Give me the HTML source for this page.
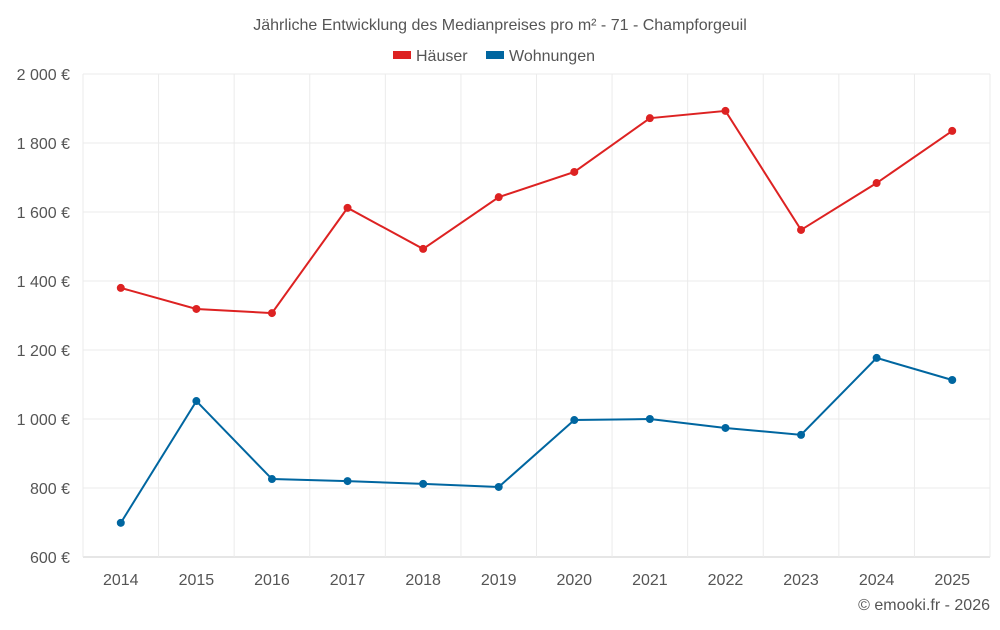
<!DOCTYPE html>
<html><head><meta charset="utf-8"><style>
body{margin:0;background:#fff;font-family:"Liberation Sans",sans-serif;}
svg text{font-family:"Liberation Sans",sans-serif;fill:#555;}
</style></head><body>
<svg id="chart" width="1000" height="625">
<text x="500" y="30" text-anchor="middle" font-size="16">Jährliche Entwicklung des Medianpreises pro m² - 71 - Champforgeuil</text>
<g>
<g><rect x="393" y="51" width="18" height="8" fill="#dd2222"/><text x="416" y="61" font-size="16">Häuser</text></g>
<g><rect x="486" y="51" width="18" height="8" fill="#0066a0"/><text x="509" y="61" font-size="16">Wohnungen</text></g>
</g>
<g id="grid"></g>
<g id="axes"></g>
<g id="series"></g>
<text x="990" y="610" text-anchor="end" font-size="16">© emooki.fr - 2026</text>
</svg>
<script>
const categories=["2014","2015","2016","2017","2018","2019","2020","2021","2022","2023","2024","2025"];
const haeuser=[1380,1319,1307,1612,1493,1643,1716,1872,1893,1548,1684,1835];
const wohnungen=[699,1052,826,820,812,803,997,1000,974,954,1177,1113];
const yTicks=[600,800,1000,1200,1400,1600,1800,2000];
const yTickLabels=["600 €","800 €","1 000 €","1 200 €","1 400 €","1 600 €","1 800 €","2 000 €"];
const L=83,R=990,T=74,B=557,ymin=600,ymax=2000;
const step=(R-L)/categories.length;
const x=i=>L+step*(i+0.5);
const y=v=>B-(v-ymin)/(ymax-ymin)*(B-T);
const NS="http://www.w3.org/2000/svg";
function mk(tag,attrs,parent){const e=document.createElementNS(NS,tag);for(const k in attrs)e.setAttribute(k,attrs[k]);parent.appendChild(e);return e;}
const grid=document.getElementById('grid'),axes=document.getElementById('axes'),ser=document.getElementById('series');
yTicks.forEach((t,i)=>{
 const l=mk('line',{x1:L,x2:R,y1:y(t),y2:y(t),stroke:i==0?'#ccc':'#ebebeb','stroke-width':1},grid);
 
 
 const tx=mk('text',{x:70,y:y(t)+6,'text-anchor':'end','font-size':16},axes);
 tx.textContent=yTickLabels[i];
 
 
});
for(let i=0;i<=categories.length;i++){
 const l=mk('line',{x1:L+step*i,x2:L+step*i,y1:T,y2:B,stroke:'#ebebeb','stroke-width':1},grid);
 
 
}
categories.forEach((c,i)=>{
 const tx=mk('text',{x:x(i),y:585,'text-anchor':'middle','font-size':16},axes);
 tx.textContent=c;
 
 
});
function draw(data,color,name){
 const p=mk('polyline',{points:data.map((v,i)=>x(i)+','+y(v)).join(' '),fill:'none',stroke:color,'stroke-width':2},ser);
 
 
 data.forEach((v,i)=>{
  const c=mk('circle',{cx:x(i),cy:y(v),r:4,fill:color},ser);
  
  
 });
}
draw(haeuser,'#dd2222','haeuser');
draw(wohnungen,'#0066a0','wohnungen');
</script>
</body></html>
